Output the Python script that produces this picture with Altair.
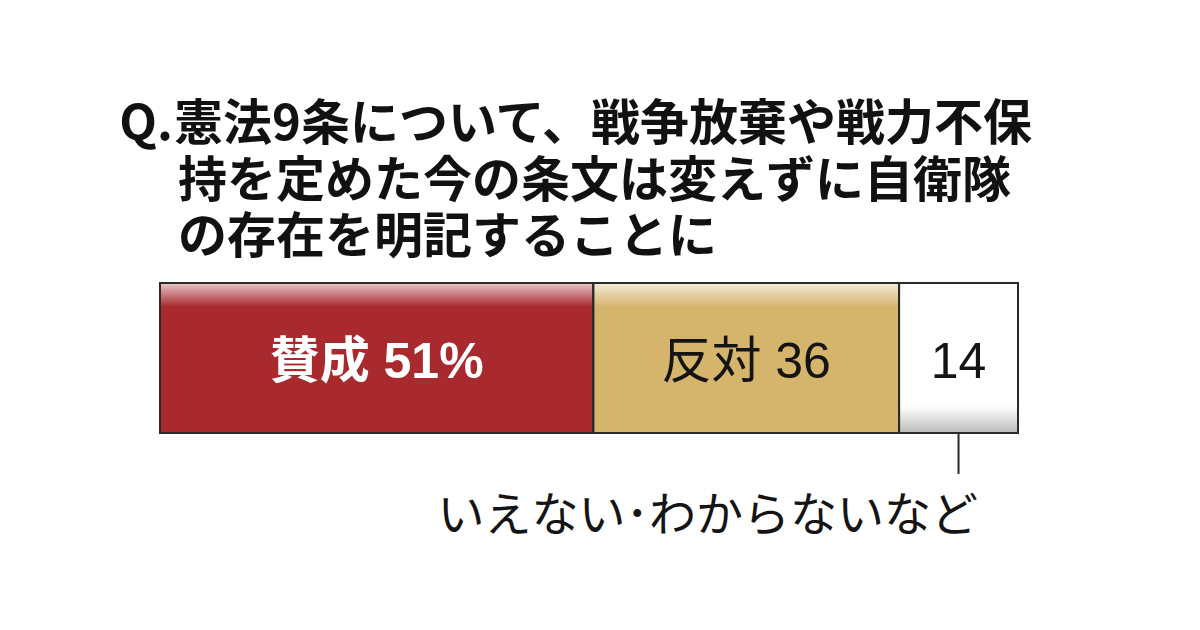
import altair as alt
import pandas as pd

# ---- data ----
q_prefix = "Q."
question_lines = [
    "憲法9条について、戦争放棄や戦力不保",
    "持を定めた今の条文は変えずに自衛隊",
    "の存在を明記することに",
]
categories = ["賛成", "反対", "いえない・わからないなど"]
values = [51, 36, 14]
bar_labels = ["賛成 51%", "反対 36", "14"]
colors = ["#A8292E", "#D5B46C", "#FFFFFF"]
note_text = "いえない･わからないなど"

FONT = "Noto Sans CJK JP"
LABEL_FONT = "'Liberation Sans', 'Noto Sans CJK JP', sans-serif"

total = sum(values)
starts, acc = [], 0
for v in values:
    starts.append(acc)
    acc += v
df = pd.DataFrame({
    "cat": categories,
    "value": values,
    "start": starts,
    "end": [s + v for s, v in zip(starts, values)],
    "label": bar_labels,
    "q": ["Q9"] * len(values),
})
df["mid"] = (df["start"] + df["end"]) / 2

xscale = alt.Scale(domain=[0, total], range=[152, 1010], nice=False, zero=False)
yscale = alt.Scale(range=[275, 425], paddingInner=0, paddingOuter=0)

base = alt.Chart(df)
xenc = alt.X("start:Q", scale=xscale, axis=None)
yenc = alt.Y("q:N", scale=yscale, axis=None)

bars = base.mark_bar().encode(
    x=xenc, x2="end:Q", y=yenc,
    color=alt.Color("cat:N", scale=alt.Scale(domain=categories, range=colors), legend=None),
)

top_grad = alt.LinearGradient(
    gradient="linear", x1=0, x2=0, y1=0, y2=1,
    stops=[
        alt.GradientStop(offset=0, color="rgba(255,255,255,0.75)"),
        alt.GradientStop(offset=0.06, color="rgba(255,255,255,0.45)"),
        alt.GradientStop(offset=0.16, color="rgba(255,255,255,0)"),
        alt.GradientStop(offset=1, color="rgba(255,255,255,0)"),
    ],
)
highlight = base.transform_filter(
    alt.FieldOneOfPredicate(field="cat", oneOf=categories[:2])
).mark_bar(color=top_grad).encode(x=xenc, x2="end:Q", y=yenc)

bottom_grad = alt.LinearGradient(
    gradient="linear", x1=0, x2=0, y1=0, y2=1,
    stops=[
        alt.GradientStop(offset=0, color="rgba(150,150,150,0)"),
        alt.GradientStop(offset=0.82, color="rgba(150,150,150,0)"),
        alt.GradientStop(offset=1, color="rgba(150,150,150,0.65)"),
    ],
)
shade = base.transform_filter(
    alt.datum.cat == categories[2]
).mark_bar(color=bottom_grad).encode(x=xenc, x2="end:Q", y=yenc)

outline = base.mark_bar(fillOpacity=0, stroke="#2a2a2a", strokeWidth=2).encode(
    x=xenc, x2="end:Q", y=yenc
)

leader = base.transform_filter(alt.datum.cat == categories[2]).mark_rule(
    color="#2a2a2a", strokeWidth=2
).encode(x=alt.X("mid:Q", scale=xscale, axis=None), y=alt.value(425), y2=alt.value(466))

lab_main = base.transform_filter(alt.datum.cat == categories[0]).mark_text(
    font=LABEL_FONT, fontSize=50, fontWeight="bold", color="white", align="center", baseline="middle"
).encode(x=alt.X("mid:Q", scale=xscale, axis=None), y=alt.value(355), text="label:N")

lab_rest = base.transform_filter(alt.datum.cat != categories[0]).mark_text(
    font=LABEL_FONT, fontSize=50, color="#141414", align="center", baseline="middle"
).encode(x=alt.X("mid:Q", scale=xscale, axis=None), y=alt.value(355), text="label:N")

one = pd.DataFrame({"k": [0]})
title_layers = [
    alt.Chart(one).mark_text(font=FONT, fontSize=49, fontWeight="bold", color="#111",
                             align="right", baseline="middle").encode(
        x=alt.value(165), y=alt.value(117), text=alt.value(q_prefix))
]
title_x = [166, 170, 170]
title_y = [117, 174, 230]
for line, tx, ty in zip(question_lines, title_x, title_y):
    title_layers.append(
        alt.Chart(one).mark_text(font=FONT, fontSize=49, fontWeight="bold", color="#111",
                                 align="left", baseline="middle").encode(
            x=alt.value(tx), y=alt.value(ty), text=alt.value(line))
    )

note = alt.Chart(one).mark_text(font=FONT, fontSize=47, color="#141414",
                                align="right", baseline="middle").encode(
    x=alt.value(970), y=alt.value(509), text=alt.value(note_text))

chart = alt.layer(
    bars, highlight, shade, outline, leader, lab_main, lab_rest, note, *title_layers
).properties(
    width=1184, height=614, autosize="none", padding=0, background="white"
).configure_view(strokeWidth=0)

chart.save("out.html", embed_options={"renderer": "svg", "actions": False})
